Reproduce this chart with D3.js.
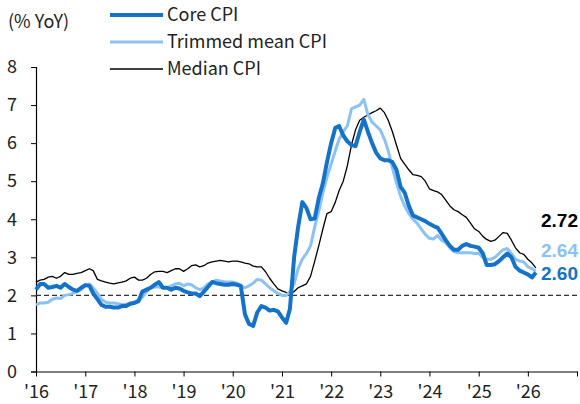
<!DOCTYPE html>
<html>
<head>
<meta charset="utf-8">
<title>Core CPI vs Trimmed mean vs Median CPI</title>
<script src="https://d3js.org/d3.v7.min.js"></script>
<style>
  body { margin: 0; background: #fff; }
  svg text { font-family: "Noto Sans CJK KR", "Noto Sans", sans-serif; fill: #222; }
</style>
</head>
<body>
<div id="chart"></div>
<script>
// monthly, Jan 2016 .. Mar 2026
var startMonth = new Date(2016, 0, 1);

var coreCPI = [
  2.15, 2.3, 2.3, 2.2, 2.22, 2.25, 2.2, 2.3, 2.22, 2.15, 2.12, 2.2,
  2.27, 2.25, 2.05, 1.9, 1.75, 1.7, 1.7, 1.68, 1.68, 1.72, 1.72, 1.78,
  1.8, 1.85, 2.1, 2.15, 2.2, 2.28, 2.35, 2.2, 2.2, 2.15, 2.2, 2.18,
  2.12, 2.08, 2.05, 2.05, 1.98, 2.1, 2.22, 2.35, 2.32, 2.3, 2.28, 2.28,
  2.3, 2.28, 2.25, 1.5, 1.25, 1.2, 1.55, 1.72, 1.68, 1.6, 1.62, 1.58,
  1.42, 1.28, 1.65, 3.0, 3.8, 4.45, 4.3, 4.0, 4.02, 4.55, 4.95, 5.5,
  6.0, 6.4, 6.45, 6.2, 6.05, 5.95, 5.92, 6.3, 6.62, 6.3, 6.0, 5.75,
  5.6, 5.55, 5.55, 5.5, 5.3, 4.85, 4.7, 4.35, 4.1, 4.05, 4.0, 3.95,
  3.88, 3.82, 3.78, 3.62, 3.45, 3.3, 3.2, 3.2, 3.3, 3.35, 3.3, 3.28,
  3.25, 3.1, 2.8, 2.8, 2.82, 2.9, 3.0, 3.1, 3.0, 2.75, 2.65, 2.6,
  2.55, 2.47, 2.6
];

var trimmedCPI = [
  1.75, 1.8, 1.8, 1.82, 1.9, 1.93, 1.92, 2.0, 2.02, 2.05, 2.1, 2.15,
  2.25, 2.3, 2.2, 2.05, 1.9, 1.82, 1.8, 1.8, 1.78, 1.76, 1.76, 1.8,
  1.83, 1.88, 1.95, 2.1, 2.2, 2.22, 2.22, 2.2, 2.2, 2.25, 2.3, 2.32,
  2.25, 2.3, 2.28, 2.2, 2.15, 2.2, 2.3, 2.35, 2.4, 2.38, 2.35, 2.35,
  2.35, 2.32, 2.25, 2.2, 2.25, 2.32, 2.42, 2.4, 2.3, 2.2, 2.12, 2.05,
  2.0, 2.0, 2.1, 2.3, 2.7, 2.95, 3.1, 3.3, 3.8, 4.2, 4.7, 5.1,
  5.45, 5.8, 6.1, 6.3, 6.45, 6.9, 6.95, 7.0, 7.15, 6.75, 6.55, 6.45,
  6.35, 6.1, 5.8, 5.35, 4.95, 4.6, 4.35, 4.15, 4.0, 3.9, 3.75, 3.6,
  3.5, 3.48, 3.58, 3.45, 3.38, 3.25, 3.15, 3.12, 3.12, 3.12, 3.12, 3.1,
  3.1, 3.0, 2.95, 2.95, 3.0, 3.1, 3.2, 3.23, 3.1, 2.95, 2.9, 2.88,
  2.75, 2.7, 2.64
];

var medianCPI = [
  2.35, 2.4, 2.42, 2.48, 2.5, 2.45, 2.5, 2.6, 2.55, 2.55, 2.58, 2.6,
  2.65, 2.7, 2.65, 2.42, 2.38, 2.35, 2.32, 2.3, 2.33, 2.35, 2.38, 2.45,
  2.48, 2.4, 2.4, 2.45, 2.55, 2.62, 2.63, 2.63, 2.6, 2.65, 2.7, 2.7,
  2.63, 2.7, 2.78, 2.8, 2.75, 2.78, 2.85, 2.88, 2.9, 2.92, 2.9, 2.88,
  2.9, 2.9, 2.88, 2.85, 2.83, 2.77, 2.75, 2.75, 2.62, 2.45, 2.3, 2.17,
  2.12, 2.08, 2.05, 2.1, 2.2, 2.25, 2.3, 2.5, 2.9, 3.3, 3.75, 4.15,
  4.2, 4.45, 4.75, 5.0, 5.4, 5.95, 6.35, 6.6, 6.68, 6.74, 6.8, 6.85,
  6.92, 6.8, 6.6, 6.3, 5.95, 5.6, 5.45, 5.3, 5.17, 5.15, 5.12, 5.0,
  4.8, 4.75, 4.72, 4.65, 4.5, 4.35, 4.25, 4.2, 4.12, 4.05, 3.9, 3.75,
  3.68, 3.55, 3.47, 3.42, 3.45, 3.55, 3.65, 3.63, 3.45, 3.25, 3.12, 3.08,
  2.95, 2.85, 2.72
];

var yearTicks = [2016, 2017, 2018, 2019, 2020, 2021, 2022, 2023, 2024, 2025, 2026, 2027];
var yearLabels = ["'16", "'17", "'18", "'19", "'20", "'21", "'22", "'23", "'24", "'25", "'26", ""];
var yTicks = [0, 1, 2, 3, 4, 5, 6, 7, 8];
var seriesNames = ["Core CPI", "Trimmed mean CPI", "Median CPI"];
var lastLabels = ["2.60", "2.64", "2.72"];
var targetLine = 2;

var W = 580, H = 404;
var margin = {top: 67, right: 3, bottom: 32, left: 36};

var svg = d3.select("#chart").append("svg")
  .attr("width", W)
  .attr("height", H);

var x = d3.scaleTime()
  .domain([new Date(2016, 0, 1), new Date(2027, 0, 1)])
  .range([margin.left, W - margin.right]);

var y = d3.scaleLinear()
  .domain([0, 8])
  .range([H - margin.bottom - 0.5, margin.top]);

function toPoints(vals) {
  return vals.map(function(v, i) {
    return {date: d3.timeMonth.offset(startMonth, i), value: v};
  });
}

var series = [
  {name: seriesNames[0], data: toPoints(coreCPI), color: "#1572c9", width: 4},
  {name: seriesNames[1], data: toPoints(trimmedCPI), color: "#8cc2f2", width: 3},
  {name: seriesNames[2], data: toPoints(medianCPI), color: "#000", width: 1.3}
];

// x axis
var xAxis = svg.append("g")
  .attr("transform", "translate(0," + y(0) + ")")
  .call(d3.axisBottom(x)
    .tickValues(yearTicks.map(function(yr) { return new Date(yr, 0, 1); }))
    .tickFormat(function(d, i) { return yearLabels[i]; })
    .tickSize(5)
    .tickSizeOuter(0));
xAxis.select(".domain").attr("stroke", "#000").attr("stroke-width", 1.2);
xAxis.selectAll(".tick line").attr("stroke", "#000");
xAxis.selectAll("text")
  .attr("y", 14)
  .attr("dy", "0.71em")
  .style("font-size", "18px")
  .style("fill", "#222");

// y axis
var yAxis = svg.append("g")
  .attr("transform", "translate(" + margin.left + ",0)")
  .call(d3.axisLeft(y).tickValues(yTicks).tickSize(5).tickSizeOuter(5));
yAxis.select(".domain").attr("stroke", "#000").attr("stroke-width", 1.2);
yAxis.selectAll(".tick line").attr("stroke", "#000");
yAxis.selectAll("text")
  .attr("x", -24)
  .attr("text-anchor", "middle")
  .style("font-size", "18px")
  .style("fill", "#222");

// 2% dashed line
svg.append("line")
  .attr("x1", x.range()[0])
  .attr("x2", x.range()[1])
  .attr("y1", y(targetLine))
  .attr("y2", y(targetLine))
  .attr("stroke", "#333")
  .attr("stroke-width", 1.3)
  .attr("stroke-dasharray", "5,3");

var line = d3.line()
  .x(function(d) { return x(d.date); })
  .y(function(d) { return y(d.value); });

// draw median first, core on top
[2, 1, 0].forEach(function(k) {
  var s = series[k];
  svg.append("path")
    .datum(s.data)
    .attr("fill", "none")
    .attr("stroke", s.color)
    .attr("stroke-width", s.width)
    .attr("stroke-linejoin", "round")
    .attr("d", line);
});

// end labels
var endY = [280, 257, 227];
[2, 1, 0].forEach(function(k) {
  svg.append("text")
    .attr("x", 541)
    .attr("y", endY[k])
    .style("font-family", "'Liberation Sans', Arial, sans-serif")
    .style("font-size", "19px")
    .style("font-weight", "bold")
    .style("fill", k === 2 ? "#000" : series[k].color)
    .text(lastLabels[k]);
});

// unit label
svg.append("text")
  .attr("x", 8)
  .attr("y", 28)
  .style("font-size", "18px")
  .text("(% YoY)");

// legend
series.forEach(function(s, i) {
  var ly = 15 + i * 27;
  svg.append("line")
    .attr("x1", 110).attr("x2", 163)
    .attr("y1", ly).attr("y2", ly)
    .attr("stroke", s.color)
    .attr("stroke-width", s.width);
  svg.append("text")
    .attr("x", 167)
    .attr("y", ly + 6)
    .style("font-size", "18px")
    .text(s.name);
});
</script>
</body>
</html>
